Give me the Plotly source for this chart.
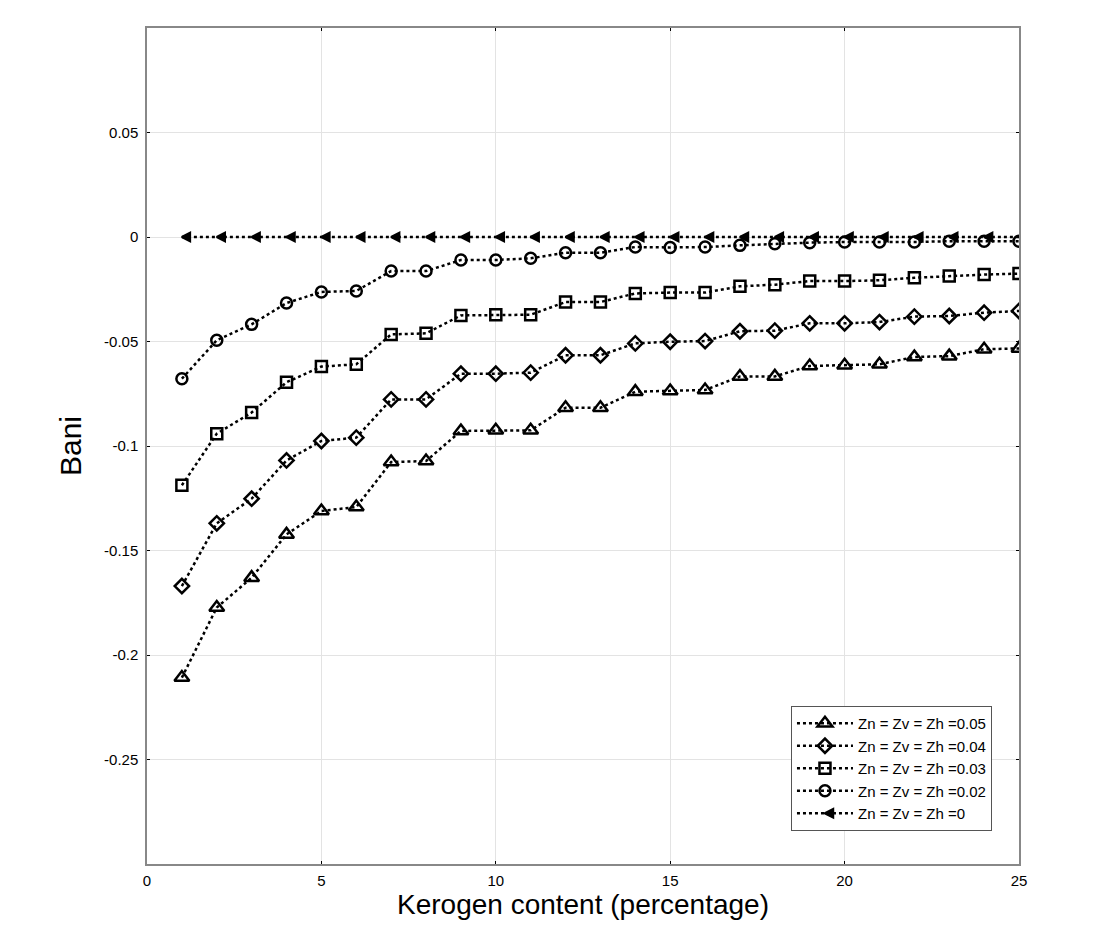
import plotly.graph_objects as go

kerogen = list(range(1, 26))

bani_005 = [-0.2108, -0.1773, -0.1630, -0.1423, -0.1311, -0.1292, -0.1077, -0.1072, -0.0928, -0.0925,
            -0.0925, -0.0817, -0.0817, -0.0740, -0.0737, -0.0732, -0.0668, -0.0667, -0.0617, -0.0614,
            -0.0609, -0.0574, -0.0570, -0.0537, -0.0533]
bani_004 = [-0.1670, -0.1370, -0.1252, -0.1069, -0.0976, -0.0960, -0.0777, -0.0777, -0.0654, -0.0654,
            -0.0649, -0.0566, -0.0566, -0.0509, -0.0501, -0.0498, -0.0451, -0.0448, -0.0413, -0.0413,
            -0.0407, -0.0381, -0.0378, -0.0362, -0.0354]
bani_003 = [-0.1188, -0.0941, -0.0840, -0.0695, -0.0620, -0.0609, -0.0466, -0.0461, -0.0375, -0.0372,
            -0.0372, -0.0311, -0.0311, -0.0270, -0.0266, -0.0266, -0.0236, -0.0228, -0.0211, -0.0211,
            -0.0207, -0.0195, -0.0187, -0.0180, -0.0175]
bani_002 = [-0.0678, -0.0494, -0.0418, -0.0316, -0.0263, -0.0258, -0.0163, -0.0163, -0.0110, -0.0110,
            -0.0102, -0.0075, -0.0075, -0.0048, -0.0050, -0.0048, -0.0040, -0.0032, -0.0027, -0.0024,
            -0.0024, -0.0024, -0.0020, -0.0020, -0.0020]
bani_0 = [0.0] * 25

names = ["Zn = Zv = Zh =0.05", "Zn = Zv = Zh =0.04", "Zn = Zv = Zh =0.03",
         "Zn = Zv = Zh =0.02", "Zn = Zv = Zh =0"]
series = [bani_005, bani_004, bani_003, bani_002, bani_0]
symbols = ["triangle-up-open", "diamond-open", "square-open", "circle-open", "arrow-left"]
sizes = [13, 11, 11, 11, 8]

fig = go.Figure()
for i, (name, vals, sym, sz) in enumerate(zip(names, series, symbols, sizes)):
    fig.add_trace(go.Scatter(
        x=kerogen, y=vals, name=name, mode="lines+markers",
        line=dict(color="black", width=2.5, dash="dot"),
        marker=dict(symbol=sym, size=sz, color="black", line=dict(color="black", width=2.5)),
    ))

axis_common = dict(
    showline=True, linecolor="#888888", linewidth=1.5, mirror="ticks",
    ticks="inside", ticklen=3, tickcolor="black",
    showgrid=True, gridcolor="#e3e3e3", gridwidth=1,
    zeroline=False, tickfont=dict(size=15, color="black"),
)

fig.update_layout(
    width=1100, height=940,
    paper_bgcolor="white", plot_bgcolor="white",
    font=dict(family="Liberation Sans, Arial, sans-serif", color="black"),
    margin=dict(l=139, r=89, t=20, b=84),
    xaxis=dict(range=[0, 25], tickvals=[0, 5, 10, 15, 20, 25],
               title=dict(text="Kerogen content (percentage)", font=dict(size=28), standoff=6),
               ticklabelstandoff=2,
               **axis_common),
    yaxis=dict(range=[-0.3, 0.1], tickvals=[-0.25, -0.2, -0.15, -0.1, -0.05, 0, 0.05],
               ticktext=["-0.25", "-0.2", "-0.15", "-0.1", "-0.05", "0", "0.05"],
               title=dict(text="Bani", font=dict(size=30), standoff=14),
               ticklabelstandoff=4,
               **axis_common),
    legend=dict(x=0.7385, y=0.189, xanchor="left", yanchor="top",
                bgcolor="white", bordercolor="#555555", borderwidth=1,
                itemwidth=56,
                font=dict(size=15, color="black")),
    showlegend=True,
)

fig.write_html("out.html")
